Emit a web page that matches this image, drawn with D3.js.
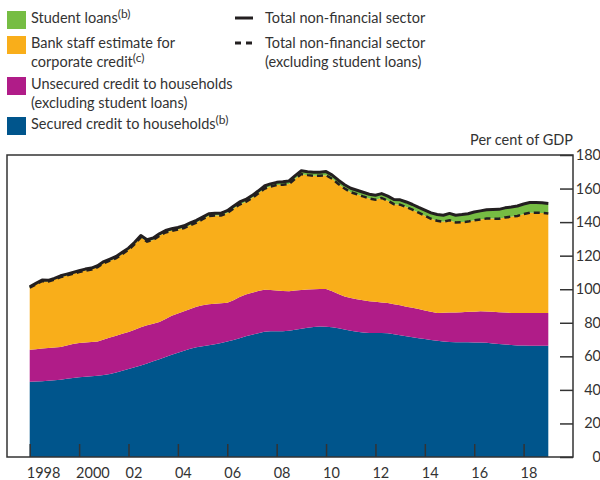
<!DOCTYPE html>
<html>
<head>
<meta charset="utf-8">
<script src="https://cdn.jsdelivr.net/npm/d3@7"></script>
<style>
  body { margin: 0; background: #fff; }
  svg { display: block; font-family: Lato, "Open Sans", sans-serif; }
  text { fill: #333; }
</style>
</head>
<body>
<svg id="chart" width="600" height="480"></svg>
<script>
// quarterly, 1998 Q1 .. 2019 Q1, per cent of GDP
var startYear = 1998;

var secured = [
  44.9, 45.0, 45.2, 45.5, 45.8, 46.1, 46.6, 47.1, 47.5, 47.8, 48.1, 48.5,
  48.9, 49.5, 50.3, 51.4, 52.5, 53.5, 54.6, 55.7, 57.0, 58.3, 59.6, 60.9,
  62.2, 63.4, 64.5, 65.4, 66.0, 66.6, 67.2, 67.9, 68.8, 69.7, 70.8, 71.9,
  72.9, 73.8, 74.6, 74.9, 74.9, 74.9, 75.3, 75.9, 76.5, 77.0, 77.5, 77.8,
  77.7, 77.3, 76.8, 76.0, 75.2, 74.6, 74.2, 73.9, 73.9, 73.9, 73.8, 73.2,
  72.5, 71.9, 71.4, 70.8, 70.3, 69.8, 69.3, 68.8, 68.5, 68.4, 68.4, 68.4,
  68.3, 68.3, 68.1, 67.7, 67.4, 67.1, 66.8, 66.5, 66.4, 66.3, 66.3, 66.3,
  66.3
];

var unsecured = [
  19.0, 19.2, 19.4, 19.5, 19.4, 19.5, 19.8, 20.2, 20.4, 20.4, 20.4, 20.4,
  21.1, 21.7, 22.0, 22.0, 22.0, 22.3, 22.7, 22.9, 22.4, 22.1, 22.6, 23.3,
  23.4, 23.5, 23.7, 24.1, 24.4, 24.4, 24.2, 23.7, 23.1, 23.8, 24.5, 25.0,
  25.0, 25.1, 25.1, 24.7, 24.4, 24.1, 23.5, 23.3, 23.1, 22.9, 22.5, 22.4,
  22.5, 21.5, 20.4, 19.7, 19.5, 19.4, 19.2, 19.0, 18.7, 18.2, 18.0, 17.9,
  17.9, 17.7, 17.6, 17.4, 17.0, 16.8, 16.6, 17.2, 17.6, 17.8, 17.9, 18.1,
  18.3, 18.5, 18.6, 18.8, 18.9, 19.0, 19.1, 19.3, 19.4, 19.5, 19.6, 19.6,
  19.6
];

var corporate = [
  37.0, 38.7, 40.2, 39.6, 40.6, 41.6, 41.8, 41.9, 42.3, 42.9, 43.2, 44.2,
  45.6, 45.8, 46.2, 47.6, 49.0, 51.1, 53.6, 49.8, 50.0, 51.4, 51.6, 50.6,
  50.0, 49.6, 50.0, 50.2, 51.3, 52.6, 52.5, 52.3, 53.5, 54.5, 55.2, 55.1,
  56.4, 58.1, 60.2, 61.6, 62.8, 63.3, 63.9, 66.6, 69.0, 68.1, 67.6, 67.4,
  67.7, 67.0, 65.5, 64.3, 63.1, 62.6, 61.9, 61.2, 60.8, 62.3, 61.0, 59.6,
  60.0, 59.4, 58.4, 57.4, 56.5, 55.4, 54.9, 54.2, 55.0, 53.6, 53.7, 53.8,
  54.5, 54.8, 55.4, 55.6, 55.7, 56.7, 57.3, 57.9, 59.0, 59.8, 59.7, 59.6,
  59.2
];

var student = [
  0.6, 0.6, 0.7, 0.7, 0.7, 0.8, 0.8, 0.8, 0.8, 0.9, 0.9, 0.9,
  0.9, 1.0, 1.0, 1.0, 1.0, 1.1, 1.1, 1.1, 1.1, 1.2, 1.2, 1.2,
  1.2, 1.3, 1.3, 1.3, 1.3, 1.4, 1.4, 1.4, 1.4, 1.5, 1.5, 1.5,
  1.5, 1.5, 1.6, 1.6, 1.6, 1.7, 1.8, 1.9, 2.0, 2.0, 2.1, 2.1,
  2.2, 2.2, 2.3, 2.3, 2.4, 2.4, 2.5, 2.5, 2.6, 2.6, 2.7, 2.8,
  2.9, 3.0, 3.1, 3.2, 3.4, 3.5, 3.7, 3.9, 4.1, 4.3, 4.5, 4.7,
  4.9, 5.1, 5.3, 5.4, 5.6, 5.7, 5.8, 5.9, 6.0, 6.1, 6.1, 6.1,
  6.0
];

var tickYears = [1998, 2000, 2002, 2004, 2006, 2008, 2010, 2012, 2014, 2016, 2018];
var tickLabels = ["1998", "2000", "02", "04", "06", "08", "10", "12", "14", "16", "18"];
var yTicks = [0, 20, 40, 60, 80, 100, 120, 140, 160, 180];

var colors = {
  secured: "#00558c",
  unsecured: "#b01c88",
  corporate: "#f9ae1a",
  student: "#76bd43"
};

var svg = d3.select("#chart");

var box = { left: 7, right: 573, top: 155, bottom: 457 };

var xScale = d3.scaleLinear()
               .domain([1997.08, 2020])
               .range([box.left, box.right]);
var yScale = d3.scaleLinear()
               .domain([0, 180])
               .range([box.bottom, box.top]);

var rows = secured.map(function(d, i) {
  return {
    year: startYear + i / 4,
    secured: d,
    unsecured: unsecured[i],
    corporate: corporate[i],
    student: student[i]
  };
});

var keys = ["secured", "unsecured", "corporate", "student"];
var stack = d3.stack().keys(keys);
var series = stack(rows);

var area = d3.area()
             .x(function(d) { return xScale(d.data.year); })
             .y0(function(d) { return yScale(d[0]); })
             .y1(function(d) { return yScale(d[1]); });

svg.append("g")
   .selectAll("path")
   .data(series)
   .enter()
   .append("path")
   .attr("d", area)
   .attr("fill", function(d) { return colors[d.key]; });

var lineTotal = d3.line()
                  .x(function(d) { return xScale(d.year); })
                  .y(function(d) { return yScale(d.secured + d.unsecured + d.corporate + d.student); });
var lineExStudent = d3.line()
                      .x(function(d) { return xScale(d.year); })
                      .y(function(d) { return yScale(d.secured + d.unsecured + d.corporate); });

svg.append("path")
   .datum(rows)
   .attr("d", lineTotal)
   .attr("fill", "none")
   .attr("stroke", "#231f20")
   .attr("stroke-width", 3)
   .attr("stroke-linejoin", "round");

svg.append("path")
   .datum(rows)
   .attr("d", lineExStudent)
   .attr("fill", "none")
   .attr("stroke", "#231f20")
   .attr("stroke-width", 2.5)
   .attr("stroke-dasharray", "6,4");

// frame
svg.append("rect")
   .attr("x", box.left)
   .attr("y", box.top)
   .attr("width", box.right - box.left)
   .attr("height", box.bottom - box.top)
   .attr("fill", "none")
   .attr("stroke", "#333")
   .attr("stroke-width", 1.5);

// y axis on the right, ticks pointing inwards
var yAxis = d3.axisLeft(yScale)
              .tickValues(yTicks)
              .tickSize(13)
              .tickFormat("");
svg.append("g")
   .attr("transform", "translate(" + box.right + ",0)")
   .call(yAxis)
   .call(function(g) { g.select(".domain").remove(); })
   .selectAll("line")
   .attr("stroke", "#333")
   .attr("stroke-width", 1.5);

svg.append("g")
   .selectAll("text")
   .data(yTicks)
   .enter()
   .append("text")
   .attr("x", 601)
   .attr("y", function(d) { return yScale(d) + 5; })
   .attr("text-anchor", "end")
   .style("font-size", "14.5px")
   .text(function(d) { return d; });

// x axis, ticks pointing up
var xAxis = d3.axisTop(xScale)
              .tickValues(tickYears)
              .tickSize(13)
              .tickFormat("");
svg.append("g")
   .attr("transform", "translate(0," + box.bottom + ")")
   .call(xAxis)
   .call(function(g) { g.select(".domain").remove(); })
   .selectAll("line")
   .attr("stroke", "#333")
   .attr("stroke-width", 1.5);

svg.append("g")
   .selectAll("text")
   .data(tickYears)
   .enter()
   .append("text")
   .attr("x", function(d) { return xScale(d) - 3; })
   .attr("y", 478)
   .attr("text-anchor", "start")
   .style("font-size", "14.5px")
   .text(function(d, i) { return tickLabels[i]; });

svg.append("text")
   .attr("x", 573)
   .attr("y", 145)
   .attr("text-anchor", "end")
   .style("font-size", "14.5px")
   .text("Per cent of GDP");

// legend
var legendBoxes = [
  { key: "student", y: 11, lines: [["Student loans", "(b)"]] },
  { key: "corporate", y: 36, lines: [["Bank staff estimate for", ""], ["corporate credit", "(c)"]] },
  { key: "unsecured", y: 77, lines: [["Unsecured credit to households", ""], ["(excluding student loans)", ""]] },
  { key: "secured", y: 117, lines: [["Secured credit to households", "(b)"]] }
];

var legend = svg.append("g").classed("legend", true);

var legendRows = legend.selectAll("g")
                       .data(legendBoxes)
                       .enter()
                       .append("g");
legendRows.append("rect")
          .attr("x", 7)
          .attr("y", function(d) { return d.y; })
          .attr("width", 19)
          .attr("height", 18)
          .attr("fill", function(d) { return colors[d.key]; });

legendRows.each(function(d) {
  var g = d3.select(this);
  d.lines.forEach(function(l, j) {
    var t = g.append("text")
             .attr("x", 31)
             .attr("y", d.y + 12 + j * 19)
             .style("font-size", "14.5px");
    t.append("tspan").text(l[0]);
    if (l[1]) {
      t.append("tspan")
       .attr("dy", -5)
       .style("font-size", "12px")
       .text(l[1]);
    }
  });
});

var lineLegend = legend.append("g");
lineLegend.append("line")
          .attr("x1", 235).attr("x2", 253)
          .attr("y1", 18).attr("y2", 18)
          .attr("stroke", "#231f20")
          .attr("stroke-width", 3);
lineLegend.append("line")
          .attr("x1", 235).attr("x2", 254)
          .attr("y1", 43).attr("y2", 43)
          .attr("stroke", "#231f20")
          .attr("stroke-width", 3)
          .attr("stroke-dasharray", "6,5");
lineLegend.append("text")
          .attr("x", 265).attr("y", 23)
          .style("font-size", "14.5px")
          .text("Total non-financial sector");
lineLegend.append("text")
          .attr("x", 265).attr("y", 48)
          .style("font-size", "14.5px")
          .text("Total non-financial sector");
lineLegend.append("text")
          .attr("x", 265).attr("y", 67)
          .style("font-size", "14.5px")
          .text("(excluding student loans)");
</script>
</body>
</html>
